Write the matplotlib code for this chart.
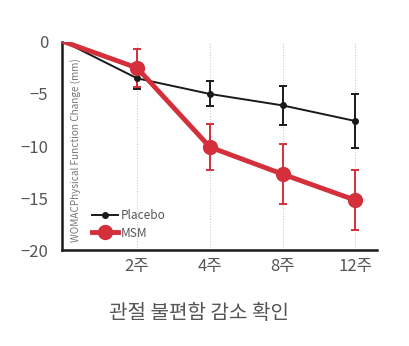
import matplotlib
matplotlib.use("Agg")
import matplotlib.pyplot as plt

plt.rcParams['font.family'] = ['Noto Sans CJK KR', 'DejaVu Sans']

# data
weeks = ['', '2주', '4주', '8주', '12주']
placebo = [0, -3.5, -5.0, -6.1, -7.6]
placebo_err = [0, 1.0, 1.2, 1.85, 2.55]
msm = [0, -2.5, -10.1, -12.7, -15.2]
msm_err = [0, 1.8, 2.25, 2.9, 2.9]

red = '#d3303c'
grey = '#555555'

fig = plt.figure(figsize=(4.09, 3.46), dpi=100)
ax = fig.add_axes([0.152, 0.277, 0.77, 0.602])

x = list(range(len(weeks)))

# dotted vertical guides
for xi in x[1:]:
    ax.axvline(xi, color='#cccccc', lw=0.8, ls=(0, (1, 1.5)), zorder=0)

ax.errorbar(x[1:], placebo[1:], yerr=placebo_err[1:], fmt='none',
            ecolor='#1a1a1a', elinewidth=1.4, capsize=3, capthick=1.4, zorder=3)
ax.errorbar(x[1:], msm[1:], yerr=msm_err[1:], fmt='none',
            ecolor=red, elinewidth=1.4, capsize=3, capthick=1.4, zorder=3)

ax.plot(x, placebo, color='#1a1a1a', lw=1.4, marker='o', markersize=4,
        markevery=list(range(1, len(x))), label='Placebo', zorder=4)
ax.plot(x, msm, color=red, lw=3.5, marker='o', markersize=10,
        markevery=list(range(1, len(x))), label='MSM', zorder=5)

ax.set_xlim(-0.03, 4.3)
ax.set_ylim(-20, 0)
ax.set_xticks(x[1:])
ax.set_xticklabels(weeks[1:])
ax.set_yticks([0, -5, -10, -15, -20])
ax.tick_params(length=0, labelsize=12, colors=grey, pad=6)
ax.tick_params(axis='y', pad=10)

for s in ['top', 'right']:
    ax.spines[s].set_visible(False)
for s in ['left', 'bottom']:
    ax.spines[s].set_linewidth(1.8)
    ax.spines[s].set_color('#1a1a1a')

ax.text(0.15, -10.4, 'WOMACPhysical Function Change (mm)', rotation=90,
        fontsize=7.2, color='#777777', ha='center', va='center')

ax.legend(loc='lower left', bbox_to_anchor=(0.06, 0.0), frameon=False,
          fontsize=8.5, labelcolor=grey, handlelength=2.2, handletextpad=0.3,
          labelspacing=0.4)

fig.text(0.487, 0.095, '관절 불편함 감소 확인', fontsize=14.5, color=grey,
         ha='center', va='center')

fig.savefig('out.png', dpi=100)
